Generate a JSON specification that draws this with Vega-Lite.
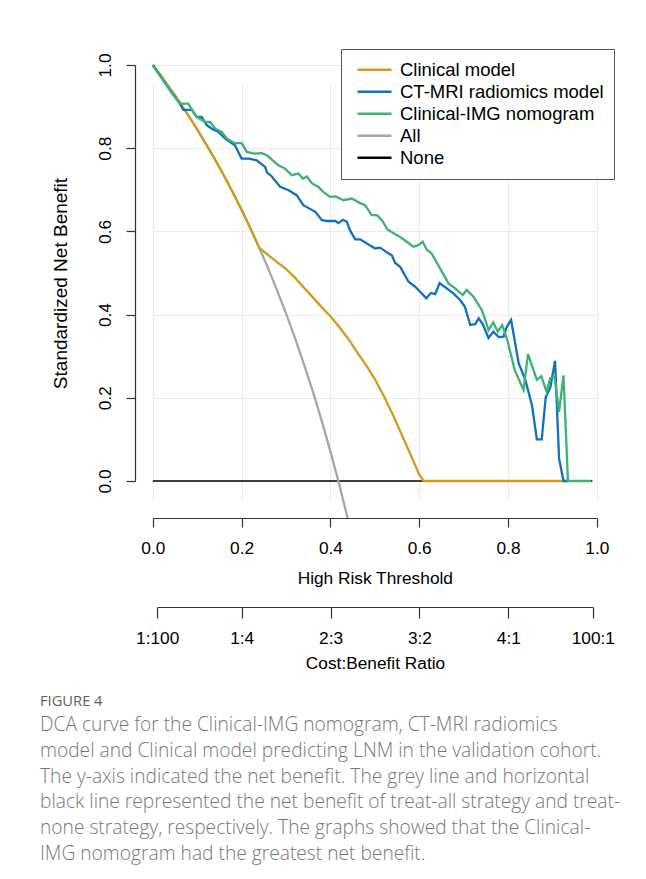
{
  "$schema": "https://vega.github.io/schema/vega-lite/v6.json",
  "background": "white",
  "padding": {"left": 40, "top": 48, "right": 10, "bottom": 10},
  "spacing": -5,
  "config": {
    "view": {"stroke": null},
    "axis": {
      "labelFont": "Liberation Sans",
      "titleFont": "Liberation Sans",
      "labelFontSize": 17.3,
      "titleFontSize": 17.3,
      "labelColor": "#000000",
      "titleColor": "#000000",
      "titleFontWeight": "normal",
      "labelFlush": false,
      "labelOverlap": false,
      "domainColor": "#333333",
      "domainWidth": 1.2,
      "tickColor": "#333333",
      "tickWidth": 1.2,
      "gridColor": "#EBEBEB",
      "gridWidth": 1,
      "zindex": 0
    },
    "legend": {
      "labelFont": "Liberation Sans",
      "labelFontSize": 18.5,
      "labelColor": "#000000"
    }
  },
  "datasets": {
    "curves": [
      {"model": "None", "t": 0, "nb": 0},
      {"model": "None", "t": 0.99, "nb": 0},
      {"model": "All", "t": 0, "nb": 1},
      {"model": "All", "t": 0.02, "nb": 0.9716},
      {"model": "All", "t": 0.04, "nb": 0.942},
      {"model": "All", "t": 0.06, "nb": 0.9111},
      {"model": "All", "t": 0.08, "nb": 0.8789},
      {"model": "All", "t": 0.1, "nb": 0.8452},
      {"model": "All", "t": 0.12, "nb": 0.81},
      {"model": "All", "t": 0.14, "nb": 0.7732},
      {"model": "All", "t": 0.16, "nb": 0.7347},
      {"model": "All", "t": 0.18, "nb": 0.6942},
      {"model": "All", "t": 0.2, "nb": 0.6518},
      {"model": "All", "t": 0.22, "nb": 0.6071},
      {"model": "All", "t": 0.24, "nb": 0.5601},
      {"model": "All", "t": 0.26, "nb": 0.5106},
      {"model": "All", "t": 0.28, "nb": 0.4583},
      {"model": "All", "t": 0.3, "nb": 0.403},
      {"model": "All", "t": 0.32, "nb": 0.3445},
      {"model": "All", "t": 0.34, "nb": 0.2824},
      {"model": "All", "t": 0.36, "nb": 0.2164},
      {"model": "All", "t": 0.38, "nb": 0.1462},
      {"model": "All", "t": 0.4, "nb": 0.0713},
      {"model": "All", "t": 0.42, "nb": -0.0087},
      {"model": "All", "t": 0.44, "nb": -0.0945},
      {"model": "Clinical model", "t": 0, "nb": 1},
      {"model": "Clinical model", "t": 0.02, "nb": 0.9716},
      {"model": "Clinical model", "t": 0.04, "nb": 0.942},
      {"model": "Clinical model", "t": 0.06, "nb": 0.9111},
      {"model": "Clinical model", "t": 0.08, "nb": 0.8789},
      {"model": "Clinical model", "t": 0.1, "nb": 0.8452},
      {"model": "Clinical model", "t": 0.12, "nb": 0.81},
      {"model": "Clinical model", "t": 0.14, "nb": 0.7732},
      {"model": "Clinical model", "t": 0.16, "nb": 0.7347},
      {"model": "Clinical model", "t": 0.18, "nb": 0.6942},
      {"model": "Clinical model", "t": 0.2, "nb": 0.6518},
      {"model": "Clinical model", "t": 0.22, "nb": 0.6071},
      {"model": "Clinical model", "t": 0.24, "nb": 0.5601},
      {"model": "Clinical model", "t": 0.26, "nb": 0.543},
      {"model": "Clinical model", "t": 0.28, "nb": 0.526},
      {"model": "Clinical model", "t": 0.3, "nb": 0.51},
      {"model": "Clinical model", "t": 0.32, "nb": 0.489},
      {"model": "Clinical model", "t": 0.34, "nb": 0.465},
      {"model": "Clinical model", "t": 0.36, "nb": 0.442},
      {"model": "Clinical model", "t": 0.38, "nb": 0.418},
      {"model": "Clinical model", "t": 0.4, "nb": 0.396},
      {"model": "Clinical model", "t": 0.42, "nb": 0.37},
      {"model": "Clinical model", "t": 0.44, "nb": 0.342},
      {"model": "Clinical model", "t": 0.46, "nb": 0.31},
      {"model": "Clinical model", "t": 0.48, "nb": 0.279},
      {"model": "Clinical model", "t": 0.5, "nb": 0.245},
      {"model": "Clinical model", "t": 0.52, "nb": 0.205},
      {"model": "Clinical model", "t": 0.54, "nb": 0.161},
      {"model": "Clinical model", "t": 0.56, "nb": 0.113},
      {"model": "Clinical model", "t": 0.58, "nb": 0.065},
      {"model": "Clinical model", "t": 0.6, "nb": 0.016},
      {"model": "Clinical model", "t": 0.61, "nb": 0},
      {"model": "Clinical model", "t": 0.93, "nb": 0},
      {"model": "CT-MRI radiomics model", "t": 0, "nb": 1},
      {"model": "CT-MRI radiomics model", "t": 0.039, "nb": 0.939},
      {"model": "CT-MRI radiomics model", "t": 0.061, "nb": 0.907},
      {"model": "CT-MRI radiomics model", "t": 0.065, "nb": 0.899},
      {"model": "CT-MRI radiomics model", "t": 0.069, "nb": 0.892},
      {"model": "CT-MRI radiomics model", "t": 0.088, "nb": 0.892},
      {"model": "CT-MRI radiomics model", "t": 0.099, "nb": 0.875},
      {"model": "CT-MRI radiomics model", "t": 0.11, "nb": 0.875},
      {"model": "CT-MRI radiomics model", "t": 0.122, "nb": 0.855},
      {"model": "CT-MRI radiomics model", "t": 0.133, "nb": 0.847},
      {"model": "CT-MRI radiomics model", "t": 0.148, "nb": 0.839},
      {"model": "CT-MRI radiomics model", "t": 0.163, "nb": 0.823},
      {"model": "CT-MRI radiomics model", "t": 0.174, "nb": 0.815},
      {"model": "CT-MRI radiomics model", "t": 0.185, "nb": 0.807},
      {"model": "CT-MRI radiomics model", "t": 0.2, "nb": 0.775},
      {"model": "CT-MRI radiomics model", "t": 0.216, "nb": 0.775},
      {"model": "CT-MRI radiomics model", "t": 0.234, "nb": 0.771},
      {"model": "CT-MRI radiomics model", "t": 0.253, "nb": 0.755},
      {"model": "CT-MRI radiomics model", "t": 0.257, "nb": 0.742},
      {"model": "CT-MRI radiomics model", "t": 0.268, "nb": 0.732},
      {"model": "CT-MRI radiomics model", "t": 0.287, "nb": 0.707},
      {"model": "CT-MRI radiomics model", "t": 0.306, "nb": 0.699},
      {"model": "CT-MRI radiomics model", "t": 0.324, "nb": 0.687},
      {"model": "CT-MRI radiomics model", "t": 0.339, "nb": 0.663},
      {"model": "CT-MRI radiomics model", "t": 0.366, "nb": 0.647},
      {"model": "CT-MRI radiomics model", "t": 0.381, "nb": 0.627},
      {"model": "CT-MRI radiomics model", "t": 0.392, "nb": 0.625},
      {"model": "CT-MRI radiomics model", "t": 0.411, "nb": 0.625},
      {"model": "CT-MRI radiomics model", "t": 0.418, "nb": 0.62},
      {"model": "CT-MRI radiomics model", "t": 0.428, "nb": 0.628},
      {"model": "CT-MRI radiomics model", "t": 0.437, "nb": 0.623},
      {"model": "CT-MRI radiomics model", "t": 0.444, "nb": 0.603},
      {"model": "CT-MRI radiomics model", "t": 0.456, "nb": 0.581},
      {"model": "CT-MRI radiomics model", "t": 0.467, "nb": 0.581},
      {"model": "CT-MRI radiomics model", "t": 0.482, "nb": 0.571},
      {"model": "CT-MRI radiomics model", "t": 0.501, "nb": 0.559},
      {"model": "CT-MRI radiomics model", "t": 0.512, "nb": 0.561},
      {"model": "CT-MRI radiomics model", "t": 0.531, "nb": 0.547},
      {"model": "CT-MRI radiomics model", "t": 0.538, "nb": 0.543},
      {"model": "CT-MRI radiomics model", "t": 0.546, "nb": 0.524},
      {"model": "CT-MRI radiomics model", "t": 0.557, "nb": 0.515},
      {"model": "CT-MRI radiomics model", "t": 0.576, "nb": 0.479},
      {"model": "CT-MRI radiomics model", "t": 0.591, "nb": 0.467},
      {"model": "CT-MRI radiomics model", "t": 0.602, "nb": 0.455},
      {"model": "CT-MRI radiomics model", "t": 0.616, "nb": 0.439},
      {"model": "CT-MRI radiomics model", "t": 0.626, "nb": 0.452},
      {"model": "CT-MRI radiomics model", "t": 0.636, "nb": 0.449},
      {"model": "CT-MRI radiomics model", "t": 0.646, "nb": 0.476},
      {"model": "CT-MRI radiomics model", "t": 0.662, "nb": 0.463},
      {"model": "CT-MRI radiomics model", "t": 0.677, "nb": 0.451},
      {"model": "CT-MRI radiomics model", "t": 0.692, "nb": 0.435},
      {"model": "CT-MRI radiomics model", "t": 0.703, "nb": 0.419},
      {"model": "CT-MRI radiomics model", "t": 0.715, "nb": 0.375},
      {"model": "CT-MRI radiomics model", "t": 0.726, "nb": 0.377},
      {"model": "CT-MRI radiomics model", "t": 0.734, "nb": 0.391},
      {"model": "CT-MRI radiomics model", "t": 0.743, "nb": 0.377},
      {"model": "CT-MRI radiomics model", "t": 0.756, "nb": 0.344},
      {"model": "CT-MRI radiomics model", "t": 0.767, "nb": 0.359},
      {"model": "CT-MRI radiomics model", "t": 0.779, "nb": 0.346},
      {"model": "CT-MRI radiomics model", "t": 0.79, "nb": 0.347},
      {"model": "CT-MRI radiomics model", "t": 0.797, "nb": 0.37},
      {"model": "CT-MRI radiomics model", "t": 0.807, "nb": 0.387},
      {"model": "CT-MRI radiomics model", "t": 0.824, "nb": 0.283},
      {"model": "CT-MRI radiomics model", "t": 0.839, "nb": 0.243},
      {"model": "CT-MRI radiomics model", "t": 0.854, "nb": 0.182},
      {"model": "CT-MRI radiomics model", "t": 0.865, "nb": 0.1},
      {"model": "CT-MRI radiomics model", "t": 0.876, "nb": 0.1},
      {"model": "CT-MRI radiomics model", "t": 0.885, "nb": 0.202},
      {"model": "CT-MRI radiomics model", "t": 0.895, "nb": 0.223},
      {"model": "CT-MRI radiomics model", "t": 0.906, "nb": 0.289},
      {"model": "CT-MRI radiomics model", "t": 0.915, "nb": 0.054},
      {"model": "CT-MRI radiomics model", "t": 0.925, "nb": 0},
      {"model": "CT-MRI radiomics model", "t": 0.935, "nb": 0},
      {"model": "Clinical-IMG nomogram", "t": 0, "nb": 1},
      {"model": "Clinical-IMG nomogram", "t": 0.039, "nb": 0.939},
      {"model": "Clinical-IMG nomogram", "t": 0.061, "nb": 0.907},
      {"model": "Clinical-IMG nomogram", "t": 0.08, "nb": 0.907},
      {"model": "Clinical-IMG nomogram", "t": 0.092, "nb": 0.887},
      {"model": "Clinical-IMG nomogram", "t": 0.099, "nb": 0.875},
      {"model": "Clinical-IMG nomogram", "t": 0.118, "nb": 0.863},
      {"model": "Clinical-IMG nomogram", "t": 0.129, "nb": 0.863},
      {"model": "Clinical-IMG nomogram", "t": 0.141, "nb": 0.847},
      {"model": "Clinical-IMG nomogram", "t": 0.155, "nb": 0.839},
      {"model": "Clinical-IMG nomogram", "t": 0.167, "nb": 0.823},
      {"model": "Clinical-IMG nomogram", "t": 0.185, "nb": 0.812},
      {"model": "Clinical-IMG nomogram", "t": 0.2, "nb": 0.812},
      {"model": "Clinical-IMG nomogram", "t": 0.212, "nb": 0.791},
      {"model": "Clinical-IMG nomogram", "t": 0.227, "nb": 0.787},
      {"model": "Clinical-IMG nomogram", "t": 0.245, "nb": 0.788},
      {"model": "Clinical-IMG nomogram", "t": 0.257, "nb": 0.783},
      {"model": "Clinical-IMG nomogram", "t": 0.283, "nb": 0.759},
      {"model": "Clinical-IMG nomogram", "t": 0.298, "nb": 0.751},
      {"model": "Clinical-IMG nomogram", "t": 0.313, "nb": 0.735},
      {"model": "Clinical-IMG nomogram", "t": 0.328, "nb": 0.739},
      {"model": "Clinical-IMG nomogram", "t": 0.338, "nb": 0.727},
      {"model": "Clinical-IMG nomogram", "t": 0.347, "nb": 0.732},
      {"model": "Clinical-IMG nomogram", "t": 0.358, "nb": 0.716},
      {"model": "Clinical-IMG nomogram", "t": 0.373, "nb": 0.707},
      {"model": "Clinical-IMG nomogram", "t": 0.384, "nb": 0.695},
      {"model": "Clinical-IMG nomogram", "t": 0.399, "nb": 0.683},
      {"model": "Clinical-IMG nomogram", "t": 0.411, "nb": 0.684},
      {"model": "Clinical-IMG nomogram", "t": 0.43, "nb": 0.675},
      {"model": "Clinical-IMG nomogram", "t": 0.448, "nb": 0.679},
      {"model": "Clinical-IMG nomogram", "t": 0.467, "nb": 0.668},
      {"model": "Clinical-IMG nomogram", "t": 0.478, "nb": 0.663},
      {"model": "Clinical-IMG nomogram", "t": 0.493, "nb": 0.639},
      {"model": "Clinical-IMG nomogram", "t": 0.505, "nb": 0.639},
      {"model": "Clinical-IMG nomogram", "t": 0.516, "nb": 0.627},
      {"model": "Clinical-IMG nomogram", "t": 0.529, "nb": 0.604},
      {"model": "Clinical-IMG nomogram", "t": 0.555, "nb": 0.588},
      {"model": "Clinical-IMG nomogram", "t": 0.572, "nb": 0.575},
      {"model": "Clinical-IMG nomogram", "t": 0.587, "nb": 0.563},
      {"model": "Clinical-IMG nomogram", "t": 0.598, "nb": 0.567},
      {"model": "Clinical-IMG nomogram", "t": 0.608, "nb": 0.575},
      {"model": "Clinical-IMG nomogram", "t": 0.617, "nb": 0.556},
      {"model": "Clinical-IMG nomogram", "t": 0.628, "nb": 0.547},
      {"model": "Clinical-IMG nomogram", "t": 0.647, "nb": 0.511},
      {"model": "Clinical-IMG nomogram", "t": 0.666, "nb": 0.475},
      {"model": "Clinical-IMG nomogram", "t": 0.681, "nb": 0.463},
      {"model": "Clinical-IMG nomogram", "t": 0.698, "nb": 0.447},
      {"model": "Clinical-IMG nomogram", "t": 0.707, "nb": 0.459},
      {"model": "Clinical-IMG nomogram", "t": 0.722, "nb": 0.443},
      {"model": "Clinical-IMG nomogram", "t": 0.741, "nb": 0.411},
      {"model": "Clinical-IMG nomogram", "t": 0.749, "nb": 0.387},
      {"model": "Clinical-IMG nomogram", "t": 0.756, "nb": 0.363},
      {"model": "Clinical-IMG nomogram", "t": 0.767, "nb": 0.381},
      {"model": "Clinical-IMG nomogram", "t": 0.777, "nb": 0.359},
      {"model": "Clinical-IMG nomogram", "t": 0.787, "nb": 0.375},
      {"model": "Clinical-IMG nomogram", "t": 0.799, "nb": 0.337},
      {"model": "Clinical-IMG nomogram", "t": 0.815, "nb": 0.267},
      {"model": "Clinical-IMG nomogram", "t": 0.835, "nb": 0.219},
      {"model": "Clinical-IMG nomogram", "t": 0.845, "nb": 0.305},
      {"model": "Clinical-IMG nomogram", "t": 0.865, "nb": 0.243},
      {"model": "Clinical-IMG nomogram", "t": 0.875, "nb": 0.252},
      {"model": "Clinical-IMG nomogram", "t": 0.887, "nb": 0.214},
      {"model": "Clinical-IMG nomogram", "t": 0.895, "nb": 0.247},
      {"model": "Clinical-IMG nomogram", "t": 0.905, "nb": 0.25},
      {"model": "Clinical-IMG nomogram", "t": 0.915, "nb": 0.166},
      {"model": "Clinical-IMG nomogram", "t": 0.925, "nb": 0.254},
      {"model": "Clinical-IMG nomogram", "t": 0.935, "nb": 0},
      {"model": "Clinical-IMG nomogram", "t": 0.987, "nb": 0}
    ]
  },
  "title": {
    "text": "FIGURE 4",
    "subtitle": [
      "DCA curve for the Clinical-IMG nomogram, CT-MRI radiomics",
      "model and Clinical model predicting LNM in the validation cohort.",
      "The y-axis indicated the net benefit. The grey line and horizontal",
      "black line represented the net benefit of treat-all strategy and treat-",
      "none strategy, respectively. The graphs showed that the Clinical-",
      "IMG nomogram had the greatest net benefit."
    ],
    "orient": "bottom",
    "anchor": "start",
    "frame": "bounds",
    "offset": 22,
    "dx": -11,
    "font": "Open Sans",
    "fontSize": 14.7,
    "fontWeight": "normal",
    "color": "#5f5f5f",
    "subtitleFont": "Open Sans",
    "subtitleFontSize": 19.2,
    "subtitleFontWeight": 300,
    "subtitleColor": "#777777",
    "subtitleLineHeight": 25.7,
    "subtitlePadding": 8
  },
  "vconcat": [
    {
      "width": 480,
      "height": 470,
      "layer": [
        {
          "data": {"name": "curves"},
          "transform": [{"filter": "datum.model === 'None'"}],
          "mark": {"type": "line", "strokeWidth": 1.6, "clip": true},
          "encoding": {
            "x": {"field": "t", "type": "quantitative", "title": "High Risk Threshold"},
            "y": {"field": "nb", "type": "quantitative", "title": "Standardized Net Benefit"},
            "color": {"field": "model", "type": "nominal"}
          }
        },
        {
          "data": {"name": "curves"},
          "transform": [{"filter": "datum.model === 'All'"}],
          "mark": {"type": "line", "strokeWidth": 2.3, "clip": true},
          "encoding": {
            "x": {"field": "t", "type": "quantitative", "title": "High Risk Threshold"},
            "y": {"field": "nb", "type": "quantitative", "title": "Standardized Net Benefit"},
            "color": {"field": "model", "type": "nominal"}
          }
        },
        {
          "data": {"name": "curves"},
          "transform": [{"filter": "datum.model === 'Clinical model'"}],
          "mark": {"type": "line", "strokeWidth": 2.3, "clip": true},
          "encoding": {
            "x": {"field": "t", "type": "quantitative", "title": "High Risk Threshold"},
            "y": {"field": "nb", "type": "quantitative", "title": "Standardized Net Benefit"},
            "color": {"field": "model", "type": "nominal"}
          }
        },
        {
          "data": {"name": "curves"},
          "transform": [{"filter": "datum.model === 'CT-MRI radiomics model'"}],
          "mark": {"type": "line", "strokeWidth": 2.3, "clip": true},
          "encoding": {
            "x": {"field": "t", "type": "quantitative", "title": "High Risk Threshold"},
            "y": {"field": "nb", "type": "quantitative", "title": "Standardized Net Benefit"},
            "color": {"field": "model", "type": "nominal"}
          }
        },
        {
          "data": {"name": "curves"},
          "transform": [{"filter": "datum.model === 'Clinical-IMG nomogram'"}],
          "mark": {"type": "line", "strokeWidth": 2.3, "clip": true},
          "encoding": {
            "x": {
              "field": "t", "type": "quantitative", "title": "High Risk Threshold",
              "scale": {"domain": [0, 1], "range": [17.8, 461.8], "nice": false, "zero": false},
              "axis": {
                "values": [0, 0.2, 0.4, 0.6, 0.8, 1.0],
                "format": ".1f",
                "domain": true,
                "grid": true,
                "tickSize": 9,
                "labelPadding": 12,
                "titlePadding": 13
              }
            },
            "y": {
              "field": "nb", "type": "quantitative", "title": "Standardized Net Benefit",
              "scale": {"domain": [0, 1], "range": [433, 17], "nice": false, "zero": false},
              "axis": {
                "values": [0, 0.2, 0.4, 0.6, 0.8, 1.0],
                "format": ".1f",
                "domain": true,
                "grid": true,
                "tickSize": 9,
                "labelAngle": -90,
                "labelAlign": "center",
                "labelBaseline": "bottom",
                "labelPadding": 12,
                "titlePadding": 26,
                "titleFontSize": 19,
                "titleY": 235
              }
            },
            "color": {
              "field": "model", "type": "nominal",
              "scale": {
                "domain": ["Clinical model", "CT-MRI radiomics model", "Clinical-IMG nomogram", "All", "None"],
                "range": ["#D49A1A", "#1170C0", "#3CB371", "#A6A6A6", "#000000"]
              },
              "legend": {
                "title": null,
                "orient": "top-right",
                "offset": 1,
                "padding": 10,
                "strokeColor": "#555555",
                "fillColor": "white",
                "symbolType": "stroke",
                "symbolSize": 1156,
                "symbolStrokeWidth": 2.3,
                "symbolOffset": 5,
                "clipHeight": 21.5,
                "rowPadding": 0,
                "labelOffset": 7,
                "labelLimit": 400
              }
            }
          }
        }
      ]
    },
    {
      "width": 480,
      "height": 0,
      "data": {"values": [{"t": 0.01, "t2": 0.99}]},
      "mark": {"type": "rule", "strokeOpacity": 0},
      "encoding": {
        "x": {
          "field": "t", "type": "quantitative",
          "scale": {"domain": [0.01, 0.99], "range": [22.2, 457.8], "nice": false, "zero": false},
          "axis": {
            "title": "Cost:Benefit Ratio",
            "values": [0.01, 0.2, 0.4, 0.6, 0.8, 0.99],
            "labelExpr": "datum.value < 0.1 ? '1:100' : datum.value < 0.3 ? '1:4' : datum.value < 0.5 ? '2:3' : datum.value < 0.7 ? '3:2' : datum.value < 0.9 ? '4:1' : '100:1'",
            "domain": true,
            "grid": false,
            "tickSize": 11,
            "labelPadding": 11,
            "titlePadding": 8
          }
        },
        "x2": {"field": "t2"}
      }
    }
  ]
}
